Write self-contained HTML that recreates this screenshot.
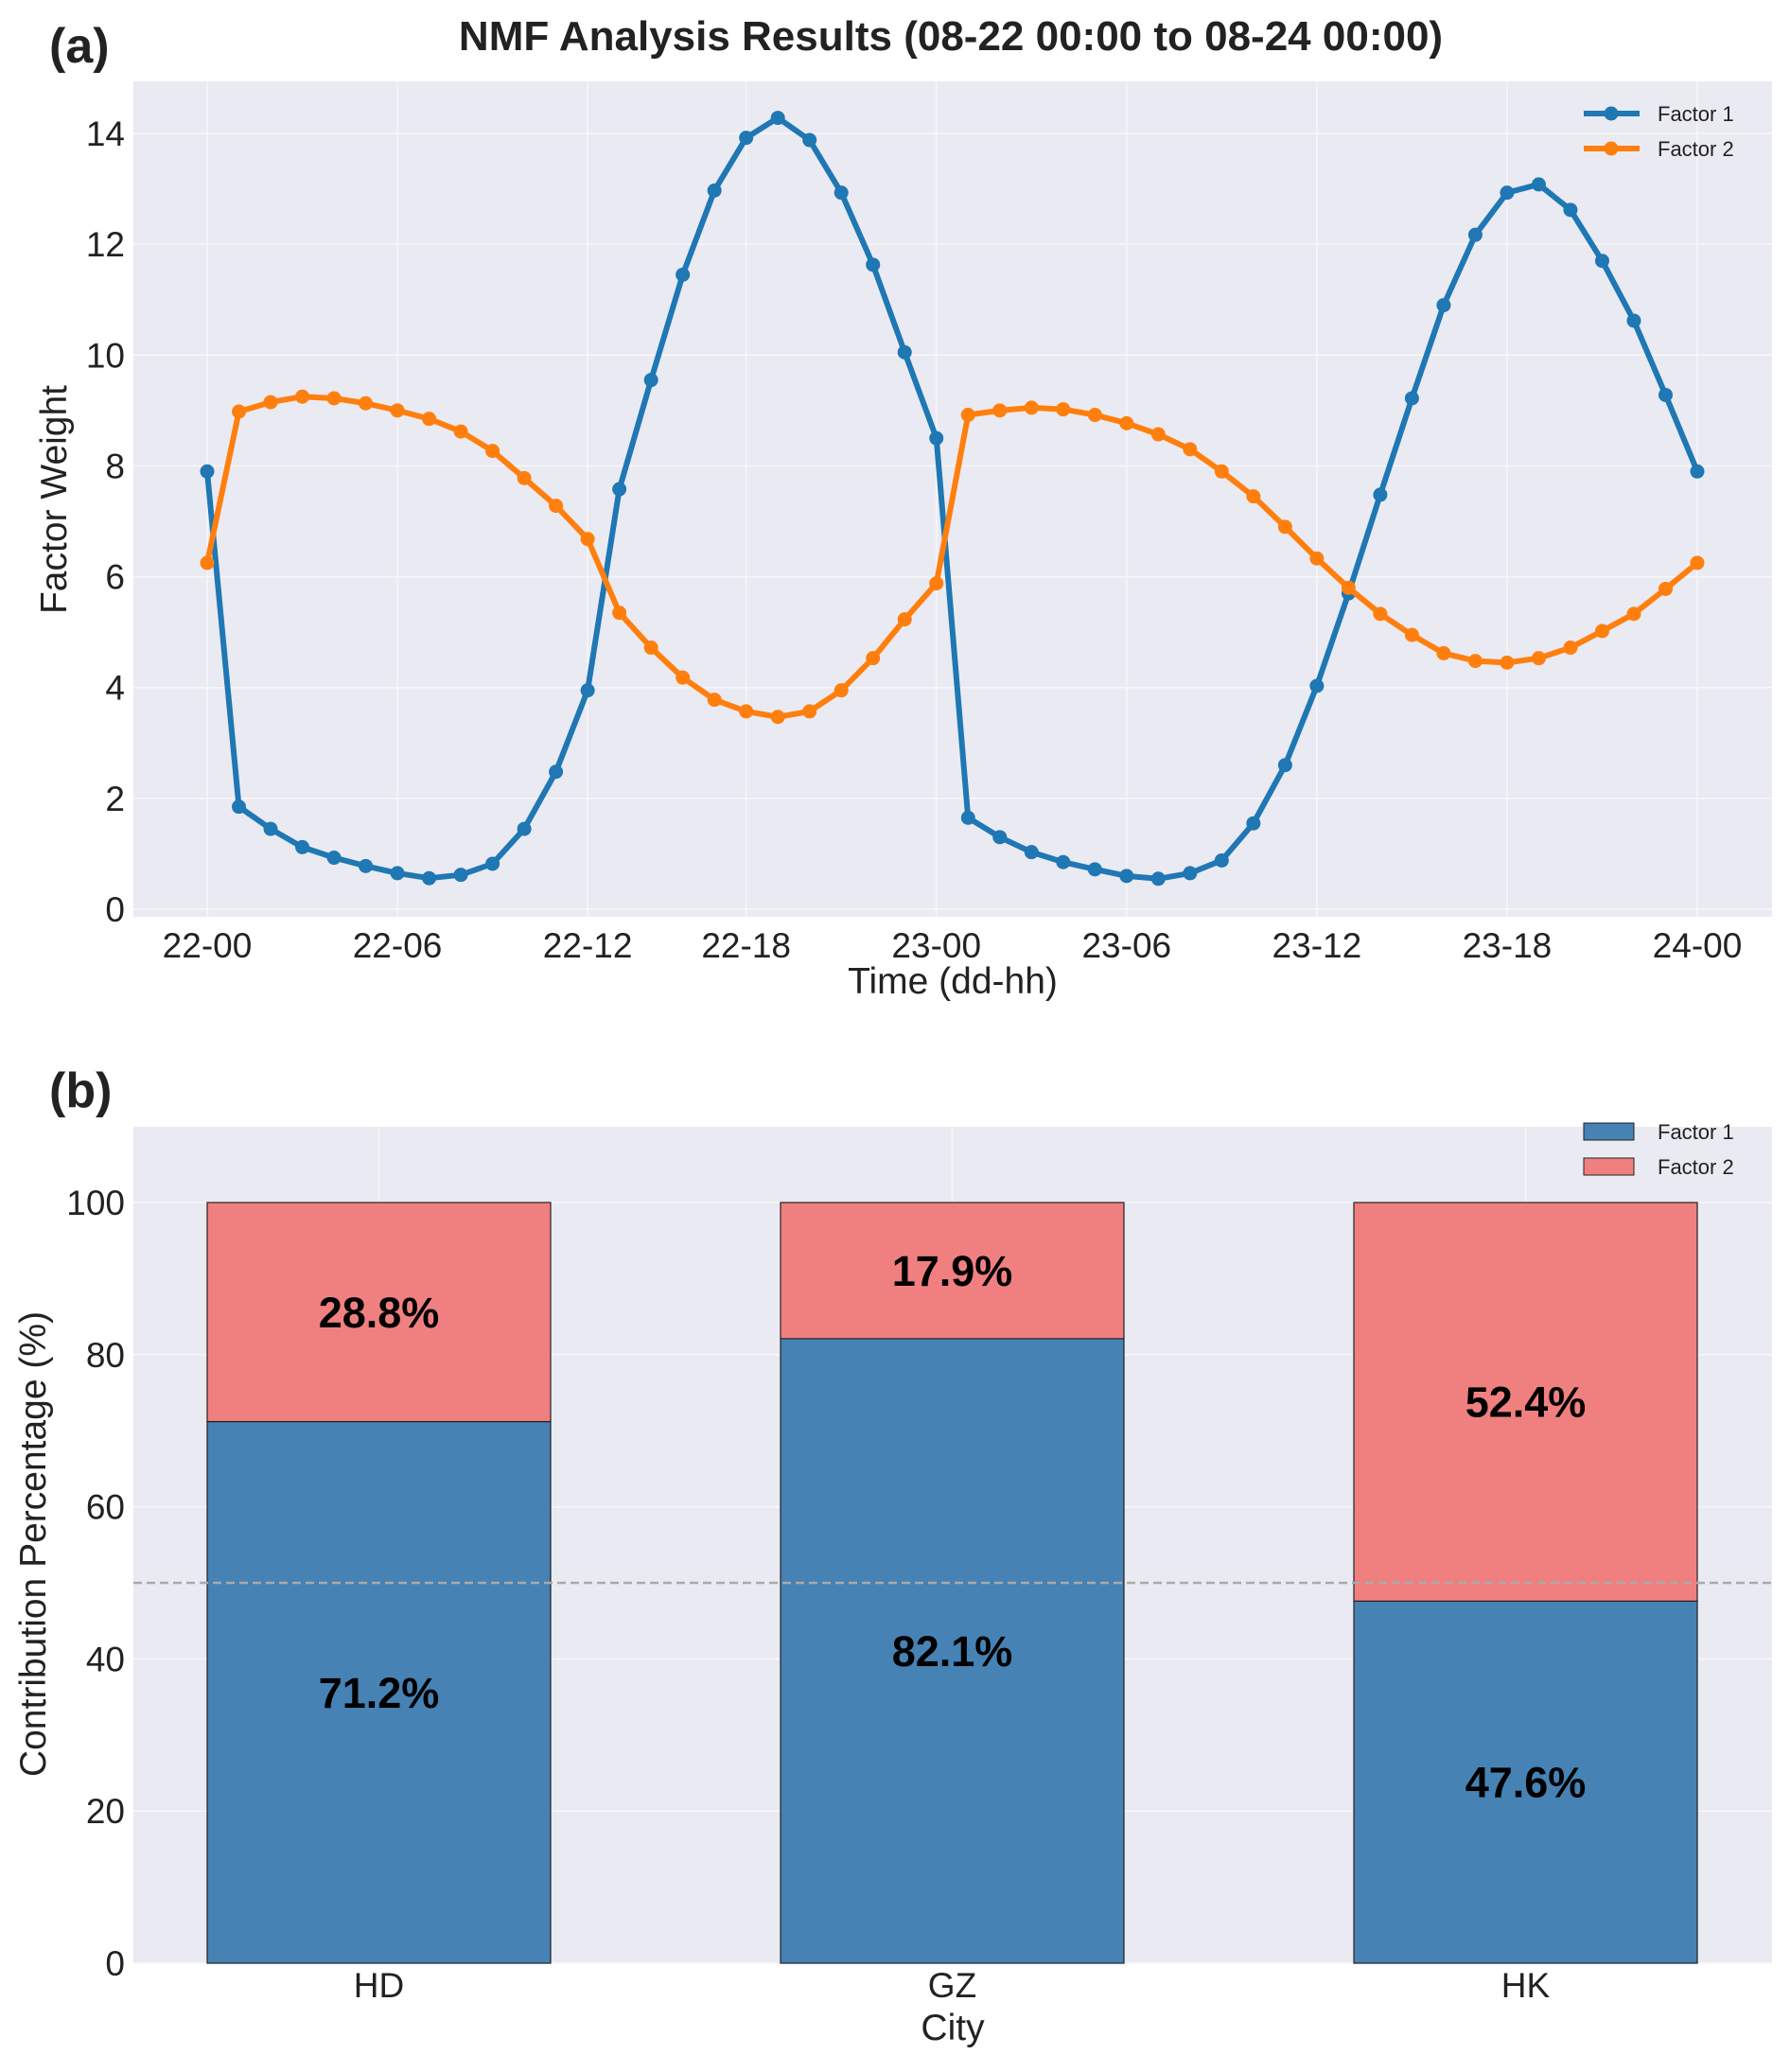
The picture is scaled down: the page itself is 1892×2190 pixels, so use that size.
<!DOCTYPE html>
<html><head><meta charset="utf-8"><style>
html,body{margin:0;padding:0;background:#fff;}
svg text{font-family:"Liberation Sans",Arial,sans-serif;fill:#222;}
</style></head><body>
<svg id="chart" width="1892" height="2185" viewBox="0 0 1892 2185" xmlns="http://www.w3.org/2000/svg">
<text x="52" y="66" font-size="52" font-weight="bold">(a)</text>
<text x="1005" y="53" font-size="44" font-weight="bold" text-anchor="middle">NMF Analysis Results (08-22 00:00 to 08-24 00:00)</text>
<text x="52" y="1170" font-size="52" font-weight="bold">(b)</text>
<g id="pa"></g>
<g id="pb"></g>
</svg>
<script>
const f1 = [7.9,1.85,1.45,1.12,0.93,0.78,0.65,0.56,0.62,0.82,1.45,2.48,3.95,7.58,9.55,11.45,12.97,13.92,14.28,13.88,12.93,11.63,10.05,8.5,1.65,1.3,1.03,0.85,0.72,0.6,0.55,0.65,0.88,1.55,2.6,4.03,5.7,7.48,9.22,10.9,12.17,12.93,13.08,12.62,11.7,10.62,9.28,7.9];
const f2 = [6.25,8.98,9.15,9.25,9.22,9.13,9.0,8.85,8.62,8.27,7.78,7.28,6.68,5.35,4.72,4.18,3.78,3.57,3.47,3.57,3.95,4.53,5.23,5.88,8.92,9.0,9.05,9.02,8.92,8.77,8.57,8.3,7.9,7.45,6.9,6.33,5.8,5.33,4.95,4.62,4.48,4.45,4.53,4.72,5.02,5.33,5.78,6.25];
const xTickIdx = [0,6,12,17,23,29,35,41,47];
const xTickLabels = ["22-00","22-06","22-12","22-18","23-00","23-06","23-12","23-18","24-00"];
const yTicksA = [0,2,4,6,8,10,12,14];
const cities = ["HD","GZ","HK"];
const pct1 = [71.2,82.1,47.6];
const pct2 = [28.8,17.9,52.4];
const yTicksB = [0,20,40,60,80,100];

const NS="http://www.w3.org/2000/svg";
function mk(parent,tag,attrs,text){const e=document.createElementNS(NS,tag);for(const k in attrs)e.setAttribute(k,attrs[k]);if(text!==undefined)e.textContent=text;parent.appendChild(e);return e;}

// Panel A
const pa=document.getElementById('pa');
const A={l:141,r:1873,t:86,b:969};
const xa=i=>219+(1794-219)*i/47;
const ya=v=>961-(961-141)*v/14;
let e=mk(pa,'rect',{x:A.l,y:A.t,width:A.r-A.l,height:A.b-A.t,fill:'#eaeaf2'});

yTicksA.forEach(v=>{
  e=mk(pa,'line',{x1:A.l,x2:A.r,y1:ya(v),y2:ya(v),stroke:'#f7f7fa','stroke-width':1.5});
  
  e=mk(pa,'text',{x:132,y:ya(v)+13,'font-size':37,'text-anchor':'end'},String(v));
  
});
xTickIdx.forEach((i,k)=>{
  e=mk(pa,'line',{x1:xa(i),x2:xa(i),y1:A.t,y2:A.b,stroke:'#f7f7fa','stroke-width':1.5});
  
  e=mk(pa,'text',{x:xa(i),y:1012,'font-size':37,'text-anchor':'middle'},xTickLabels[k]);
  
});
e=mk(pa,'text',{x:1007,y:1050,'font-size':39,'text-anchor':'middle'},'Time (dd-hh)');

e=mk(pa,'text',{x:0,y:0,'font-size':39,'text-anchor':'middle',transform:'translate(70,528) rotate(-90)'},'Factor Weight');

[[f1,'#1f77b4','factor-1'],[f2,'#ff7f0e','factor-2']].forEach(([d,c,n])=>{
  e=mk(pa,'polyline',{points:d.map((v,i)=>xa(i)+','+ya(v)).join(' '),fill:'none',stroke:c,'stroke-width':6,'stroke-linejoin':'round'});
  
  d.forEach((v,i)=>{
    e=mk(pa,'circle',{cx:xa(i),cy:ya(v),r:7.5,fill:c});
    
  });
});
[['Factor 1','#1f77b4',120],['Factor 2','#ff7f0e',157]].forEach(([t,c,y])=>{
  e=mk(pa,'line',{x1:1674,x2:1733,y1:y,y2:y,stroke:c,'stroke-width':6});
  
  e=mk(pa,'circle',{cx:1703,cy:y,r:7.5,fill:c});
  
  e=mk(pa,'text',{x:1752,y:y+8,'font-size':22},t);
  
});

// Panel B
const pb=document.getElementById('pb');
const B={l:141,r:1873,t:1191,b:2075};
const yb=v=>2075-(2075-1271)*v/100;
const xb=i=>400.5+606*i;
const bw=363;
e=mk(pb,'rect',{x:B.l,y:B.t,width:B.r-B.l,height:B.b-B.t,fill:'#eaeaf2'});

yTicksB.forEach(v=>{
  e=mk(pb,'line',{x1:B.l,x2:B.r,y1:yb(v),y2:yb(v),stroke:'#f7f7fa','stroke-width':1.5});
  
  e=mk(pb,'text',{x:132,y:yb(v)+13,'font-size':37,'text-anchor':'end'},String(v));
  
});
cities.forEach((c,i)=>{
  e=mk(pb,'line',{x1:xb(i),x2:xb(i),y1:B.t,y2:B.b,stroke:'#f7f7fa','stroke-width':1.5});
  
});
cities.forEach((c,i)=>{
  const x0=xb(i)-bw/2;
  e=mk(pb,'rect',{x:x0,y:yb(pct1[i]),width:bw,height:yb(0)-yb(pct1[i]),fill:'#4682b4',stroke:'#222','stroke-width':1.2});
  
  e=mk(pb,'rect',{x:x0,y:yb(pct1[i]+pct2[i]),width:bw,height:yb(pct1[i])-yb(pct1[i]+pct2[i]),fill:'#f08080',stroke:'#222','stroke-width':1.2});
  
  e=mk(pb,'text',{x:xb(i),y:yb(pct1[i]/2)+16,'font-size':45,'font-weight':'bold','text-anchor':'middle',style:'fill:#000'},pct1[i].toFixed(1)+'%');
  
  e=mk(pb,'text',{x:xb(i),y:yb(pct1[i]+pct2[i]/2)+16,'font-size':45,'font-weight':'bold','text-anchor':'middle',style:'fill:#000'},pct2[i].toFixed(1)+'%');
  
  e=mk(pb,'text',{x:xb(i),y:2111,'font-size':37,'text-anchor':'middle'},c);
  
});
e=mk(pb,'line',{x1:B.l,x2:B.r,y1:yb(50),y2:yb(50),stroke:'#aaa','stroke-width':2.5,'stroke-dasharray':'9,5'});

e=mk(pb,'text',{x:1007,y:2156,'font-size':39,'text-anchor':'middle'},'City');

e=mk(pb,'text',{x:0,y:0,'font-size':39,'text-anchor':'middle',transform:'translate(48,1632) rotate(-90)'},'Contribution Percentage (%)');

[['Factor 1','#4682b4',1187],['Factor 2','#f08080',1224]].forEach(([t,c,y])=>{
  e=mk(pb,'rect',{x:1674,y:y,width:53,height:18,fill:c,stroke:'#222','stroke-width':1});
  
  e=mk(pb,'text',{x:1752,y:y+17,'font-size':22},t);
  
});
</script>
</body></html>
